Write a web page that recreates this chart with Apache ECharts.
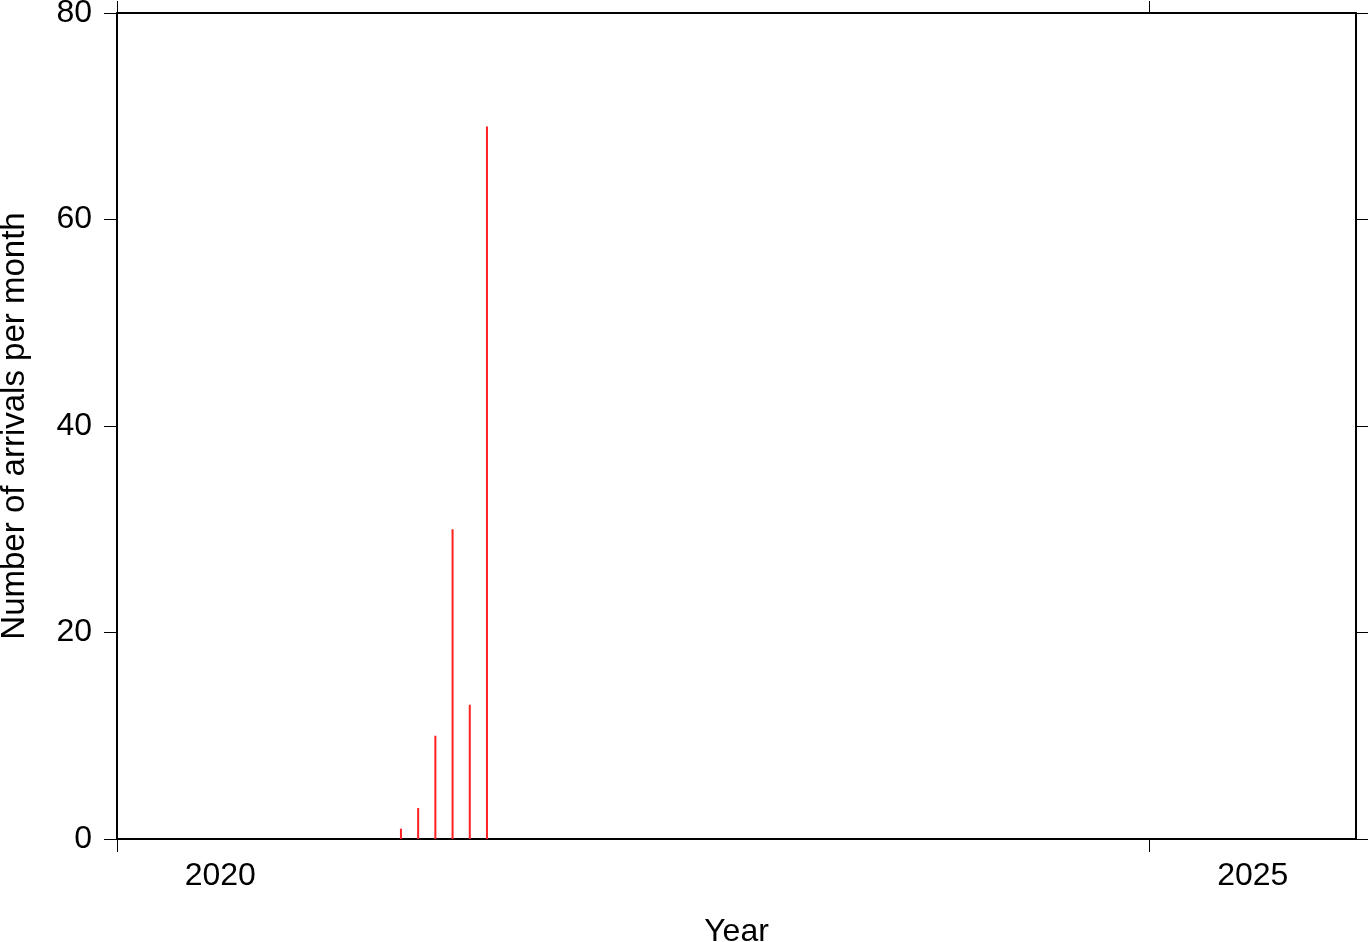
<!DOCTYPE html>
<html>
<head>
<meta charset="utf-8">
<script src="https://cdn.jsdelivr.net/npm/echarts@6/dist/echarts.min.js"></script>
<style>html,body{margin:0;padding:0;background:#fff;}#c{width:1369px;height:942px;}</style>
</head>
<body>
<div id="c"></div>
<script>
const months = ['2021-05', '2021-06', '2021-07', '2021-08', '2021-09', '2021-10'];
const arrivals = [1, 3, 10, 30, 13, 69];
const yearTicks = [2020, 2025];
const yTicks = [0, 20, 40, 60, 80];
const xTitle = 'Year';
const yTitle = 'Number of arrivals per month';

function monthToYear(s) {
  const [y, m] = s.split('-').map(Number);
  return y + (m - 0.5) / 12;
}
const seriesData = months.map((m, i) => [monthToYear(m), arrivals[i]]);

const FONT = 'Liberation Sans';
const lineStyle = { color: '#000', width: 2 };
const tickStyle = { color: '#000', width: 1 };

const chart = echarts.init(document.getElementById('c'));
chart.setOption({
  animation: false,
  backgroundColor: '#fff',
  grid: { left: 117, right: 13, top: 13, bottom: 103, containLabel: false, outerBoundsMode: 'none' },
  xAxis: [
    {
      type: 'value', position: 'bottom', min: 2020, max: 2026,
      axisLine: { show: true, onZero: false, lineStyle: lineStyle },
      axisTick: { show: true, length: 13, inside: false, customValues: yearTicks, lineStyle: tickStyle },
      axisLabel: {
        show: true, customValues: yearTicks.map(v => v + 0.5),
        formatter: v => String(Math.floor(v)),
        fontFamily: FONT, fontSize: 32, color: '#000', margin: 21
      },
      splitLine: { show: false },
      name: xTitle, nameLocation: 'middle', nameGap: 77,
      nameTextStyle: { fontFamily: FONT, fontSize: 32, color: '#000' }
    },
    {
      type: 'value', position: 'top', min: 2020, max: 2026,
      axisLine: { show: true, onZero: false, lineStyle: lineStyle },
      axisTick: { show: true, length: 12, inside: false, customValues: yearTicks, lineStyle: tickStyle },
      axisLabel: { show: false },
      splitLine: { show: false }
    }
  ],
  yAxis: [
    {
      type: 'value', position: 'left', min: yTicks[0], max: yTicks[yTicks.length - 1], interval: 20,
      axisLine: { show: true, onZero: false, lineStyle: lineStyle },
      axisTick: { show: true, length: 13, inside: false, lineStyle: tickStyle },
      axisLabel: { fontFamily: FONT, fontSize: 32, color: '#000', margin: 25 },
      splitLine: { show: false },
      name: yTitle, nameLocation: 'middle', nameGap: 86,
      nameTextStyle: { fontFamily: FONT, fontSize: 33, color: '#000' }
    },
    {
      type: 'value', position: 'right', min: yTicks[0], max: yTicks[yTicks.length - 1], interval: 20,
      axisLine: { show: true, onZero: false, lineStyle: lineStyle },
      axisTick: { show: true, length: 12, inside: false, lineStyle: tickStyle },
      axisLabel: { show: false },
      splitLine: { show: false }
    }
  ],
  series: [{
    type: 'bar',
    xAxisIndex: 0, yAxisIndex: 0,
    data: seriesData,
    barWidth: 2,
    itemStyle: { color: '#ff2020' }
  }]
});
</script>
</body>
</html>
